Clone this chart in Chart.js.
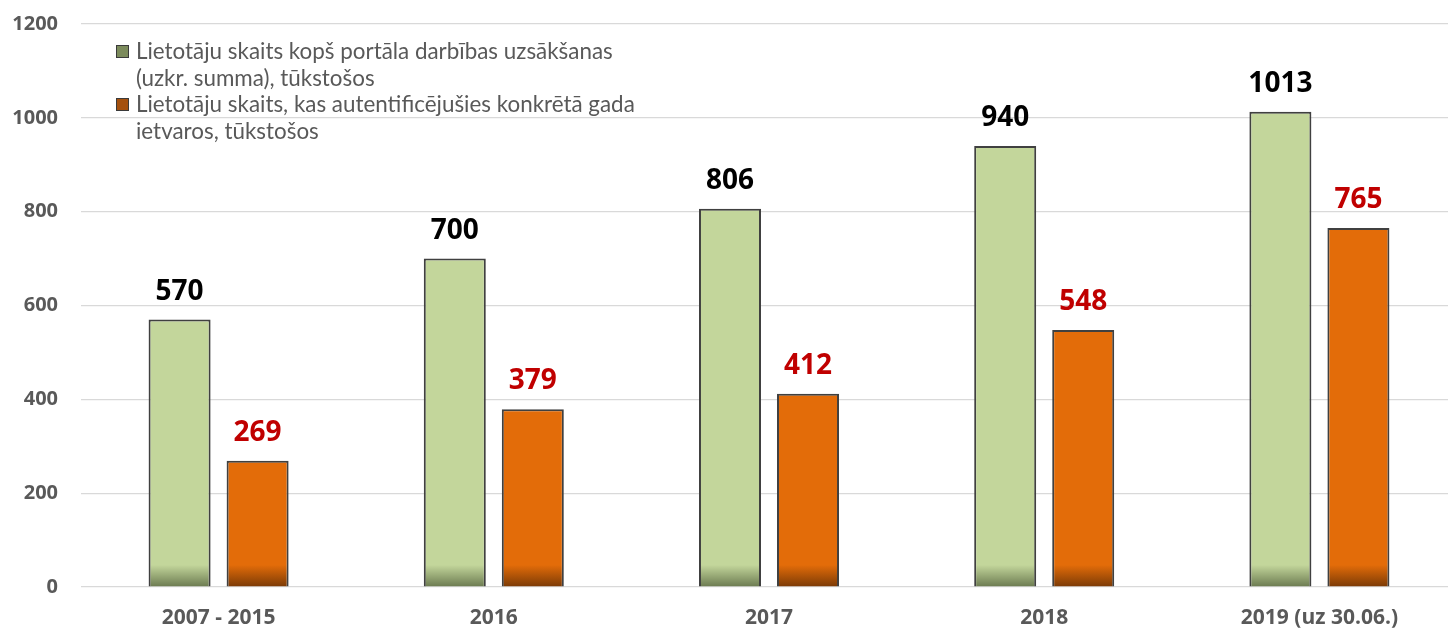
<!DOCTYPE html>
<html><head><meta charset="utf-8">
<script src="https://cdn.jsdelivr.net/npm/chart.js@4"></script>
<style>
html,body{margin:0;padding:0;background:#fff;overflow:hidden;}
#wrap{position:relative;width:1448px;height:628px;overflow:hidden;}
#c{position:absolute;left:0;top:0;}
#legend{position:absolute;left:116px;top:38px;font-family:Lato,'Open Sans',sans-serif;font-size:22.4px;color:#595959;line-height:26.5px;}
.item{position:relative;padding-left:20px;width:515px;}
.sw{position:absolute;left:0;top:7px;width:11px;height:11px;border:1px solid #3a3a3a;}
</style></head>
<body><div id="wrap"><canvas id="c" width="1457" height="628"></canvas>
<div id="legend"></div></div>
<script>
const categories = ['2007 - 2015', '2016', '2017', '2018', '2019 (uz 30.06.)'];
const seriesNames = ['Lietotāju skaits kopš portāla darbības uzsākšanas (uzkr. summa), tūkstošos',
                     'Lietotāju skaits, kas autentificējušies konkrētā gada ietvaros, tūkstošos'];
const cumulativeUsers = [570, 700, 806, 940, 1013];
const yearlyUsers = [269, 379, 412, 548, 765];
const yTicks = [0, 200, 400, 600, 800, 1000, 1200];

const colors = [
  {fill:'#C3D69B', dark:'#6B7A50', label:'#000000', legend:'#7C8B5C'},
  {fill:'#E36C09', dark:'#7A3A06', label:'#C00000', legend:'#A4500E'}
];

function grad(i){
  return function(ctx){
    const chart = ctx.chart; const a = chart.chartArea;
    if(!a) return colors[i].fill;
    const g = chart.ctx.createLinearGradient(0, a.bottom, 0, a.bottom - 22);
    g.addColorStop(0, colors[i].dark);
    g.addColorStop(1, colors[i].fill);
    return g;
  };
}

const labelPlugin = {
  id:'vals',
  afterDatasetsDraw(chart){
    const ctx = chart.ctx;
    ctx.save();
    ctx.font = 'bold 28px "Open Sans", sans-serif';
    ctx.textAlign = 'center';
    ctx.textBaseline = 'alphabetic';
    chart.data.datasets.forEach((ds, di) => {
      const meta = chart.getDatasetMeta(di);
      ctx.fillStyle = colors[di].label;
      meta.data.forEach((el, j) => {
        ctx.fillText(String(ds.data[j]), el.x, el.y - 20);
      });
    });
    ctx.restore();
  }
};

new Chart(document.getElementById('c'), {
  type:'bar',
  data:{
    labels: categories,
    datasets:[
      {label: seriesNames[0], data: cumulativeUsers, backgroundColor: grad(0), borderColor:'#404040', borderWidth:2, borderSkipped:'start'},
      {label: seriesNames[1], data: yearlyUsers, backgroundColor: grad(1), borderColor:'#404040', borderWidth:2, borderSkipped:'start'}
    ]
  },
  options:{
    responsive:false, animation:false,
    layout:{padding:{top:24, left:0, right:0, bottom:0}},
    datasets:{bar:{categoryPercentage:0.567, barPercentage:0.795}},
    plugins:{legend:{display:false}, tooltip:{enabled:false}},
    scales:{
      x:{
        grid:{display:false, drawTicks:false},
        border:{display:false},
        ticks:{color:'#595959', font:{family:'"Open Sans", sans-serif', size:21, weight:'bold'}, padding:18, maxRotation:0},
        afterFit(s){ s.height = 41; s.paddingLeft = 0; s.paddingRight = 0; }
      },
      y:{
        min:0, max:1200,
        afterBuildTicks(s){ s.ticks = yTicks.map(v => ({value:v})); },
        grid:{color:'#D9D9D9', lineWidth:1.2, drawTicks:false},
        border:{display:false},
        ticks:{color:'#595959', font:{family:'"Open Sans", sans-serif', size:20, weight:'bold'}, padding:23,
               callback:(v) => String(v)},
        afterFit(s){ s.width = 81; s.paddingTop = 0; s.paddingBottom = 0; }
      }
    }
  },
  plugins:[labelPlugin]
});

const lg = document.getElementById('legend');
seriesNames.forEach((n, i) => {
  const d = document.createElement('div'); d.className = 'item';
  const sw = document.createElement('span'); sw.className = 'sw'; sw.style.background = colors[i].legend;
  d.appendChild(sw); d.appendChild(document.createTextNode(n));
  lg.appendChild(d);
});
</script></body></html>
